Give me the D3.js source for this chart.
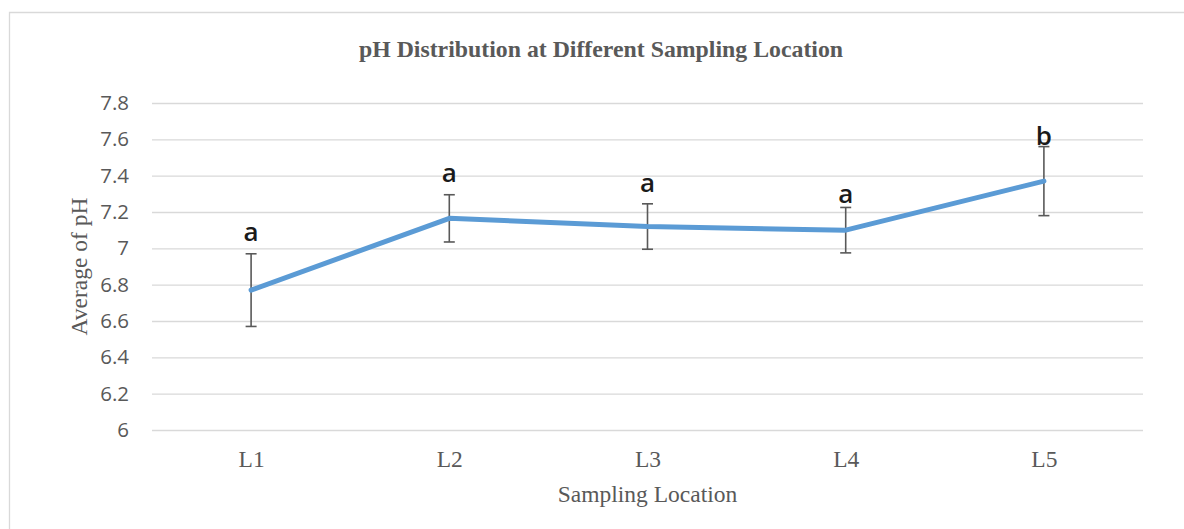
<!DOCTYPE html>
<html>
<head>
<meta charset="utf-8">
<script src="https://cdn.jsdelivr.net/npm/d3@7"></script>
<style>
  body { margin: 0; background: #fff; }
  .grid line { stroke: #d9d9d9; stroke-width: 1.3; }
  .grid .domain { display: none; }
  .y-axis text { font-family: "Open Sans", sans-serif; font-size: 20.5px; fill: #595959; }
  .x-axis text { font-family: "Liberation Serif", "Times New Roman", serif; font-size: 23.5px; fill: #595959; }
  .axis-title { font-family: "Liberation Serif", "Times New Roman", serif; font-size: 23.5px; fill: #595959; }
  .title { font-family: "Liberation Serif", "Times New Roman", serif; font-size: 23.8px; font-weight: bold; fill: #595959; }
  .letter { font-family: "Open Sans", sans-serif; font-size: 26px; font-weight: 600; fill: #1a1a1a; }
</style>
</head>
<body>
<div id="chart"></div>
<script>
  const locations = ["L1", "L2", "L3", "L4", "L5"];
  const meanPH = [6.77, 7.165, 7.12, 7.10, 7.37];
  const errPH = [0.2, 0.13, 0.125, 0.125, 0.19];
  const groups = ["a", "a", "a", "a", "b"];
  const groupLabelAt = [7.04, 7.367, 7.308, 7.248, 7.569];
  const yTicks = [6, 6.2, 6.4, 6.6, 6.8, 7, 7.2, 7.4, 7.6, 7.8];

  const width = 1184;
  const height = 529;
  const margin = { top: 103, right: 41, bottom: 99, left: 152 };
  const innerWidth = width - margin.left - margin.right;
  const innerHeight = height - margin.top - margin.bottom;

  const svg = d3.select("#chart")
    .append("svg")
    .attr("width", width)
    .attr("height", height);

  // chart frame (runs off the right and bottom edges like the source)
  svg.append("path")
    .attr("d", `M9.5,${height} V12.5 H${width}`)
    .attr("fill", "none")
    .attr("stroke", "#d9d9d9")
    .attr("stroke-width", 1.3);

  const g = svg.append("g")
    .attr("transform", `translate(${margin.left},${margin.top})`);

  const xScale = d3.scalePoint()
    .domain(locations)
    .range([0, innerWidth])
    .padding(0.5);

  const yScale = d3.scaleLinear()
    .domain([6, 7.8])
    .range([innerHeight, 0]);

  // Gridlines
  const gridG = g.append("g")
    .attr("class", "grid")
    .call(d3.axisLeft(yScale).tickValues(yTicks).tickSize(-innerWidth).tickFormat(""));
  gridG.selectAll("text").remove();

  // Y axis labels
  const yAxisG = g.append("g")
    .attr("class", "y-axis")
    .call(d3.axisLeft(yScale).tickValues(yTicks).tickSize(0).tickPadding(23).tickFormat(d => d3.format("~g")(d)));
  yAxisG.select(".domain").remove();

  // X axis labels
  const xAxisG = g.append("g")
    .attr("class", "x-axis")
    .attr("transform", `translate(0,${innerHeight})`)
    .call(d3.axisBottom(xScale).tickSize(0).tickPadding(0));
  xAxisG.select(".domain").remove();
  xAxisG.selectAll("text").attr("dy", null).attr("y", 37);

  const data = locations.map((loc, i) => ({
    loc, mean: meanPH[i], err: errPH[i], group: groups[i], labelAt: groupLabelAt[i]
  }));

  // Error bars
  const eb = g.append("g")
    .attr("stroke", "#595959")
    .attr("stroke-width", 1.6)
    .selectAll("g")
    .data(data)
    .join("g");

  eb.append("line")
    .attr("x1", d => xScale(d.loc))
    .attr("x2", d => xScale(d.loc))
    .attr("y1", d => yScale(d.mean - d.err))
    .attr("y2", d => yScale(d.mean + d.err));

  eb.append("line")
    .attr("x1", d => xScale(d.loc) - 5.5)
    .attr("x2", d => xScale(d.loc) + 5.5)
    .attr("y1", d => yScale(d.mean + d.err))
    .attr("y2", d => yScale(d.mean + d.err));

  eb.append("line")
    .attr("x1", d => xScale(d.loc) - 5.5)
    .attr("x2", d => xScale(d.loc) + 5.5)
    .attr("y1", d => yScale(d.mean - d.err))
    .attr("y2", d => yScale(d.mean - d.err));

  // Line
  const line = d3.line()
    .x(d => xScale(d.loc))
    .y(d => yScale(d.mean));

  g.append("path")
    .datum(data)
    .attr("fill", "none")
    .attr("stroke", "#5b9bd5")
    .attr("stroke-width", 5)
    .attr("stroke-linejoin", "round")
    .attr("stroke-linecap", "round")
    .attr("d", line);

  // Group letters
  g.selectAll(".letter")
    .data(data)
    .join("text")
    .attr("class", "letter")
    .attr("x", d => xScale(d.loc))
    .attr("y", d => yScale(d.labelAt))
    .attr("text-anchor", "middle")
    .text(d => d.group);

  // Title
  svg.append("text")
    .attr("class", "title")
    .attr("x", 601)
    .attr("y", 57)
    .attr("text-anchor", "middle")
    .text("pH Distribution at Different Sampling Location");

  // Axis titles
  svg.append("text")
    .attr("class", "axis-title")
    .attr("x", margin.left + innerWidth / 2)
    .attr("y", 502)
    .attr("text-anchor", "middle")
    .text("Sampling Location");

  svg.append("text")
    .attr("class", "axis-title")
    .attr("transform", `translate(87,${margin.top + innerHeight / 2}) rotate(-90)`)
    .attr("text-anchor", "middle")
    .text("Average of pH");
</script>
</body>
</html>
